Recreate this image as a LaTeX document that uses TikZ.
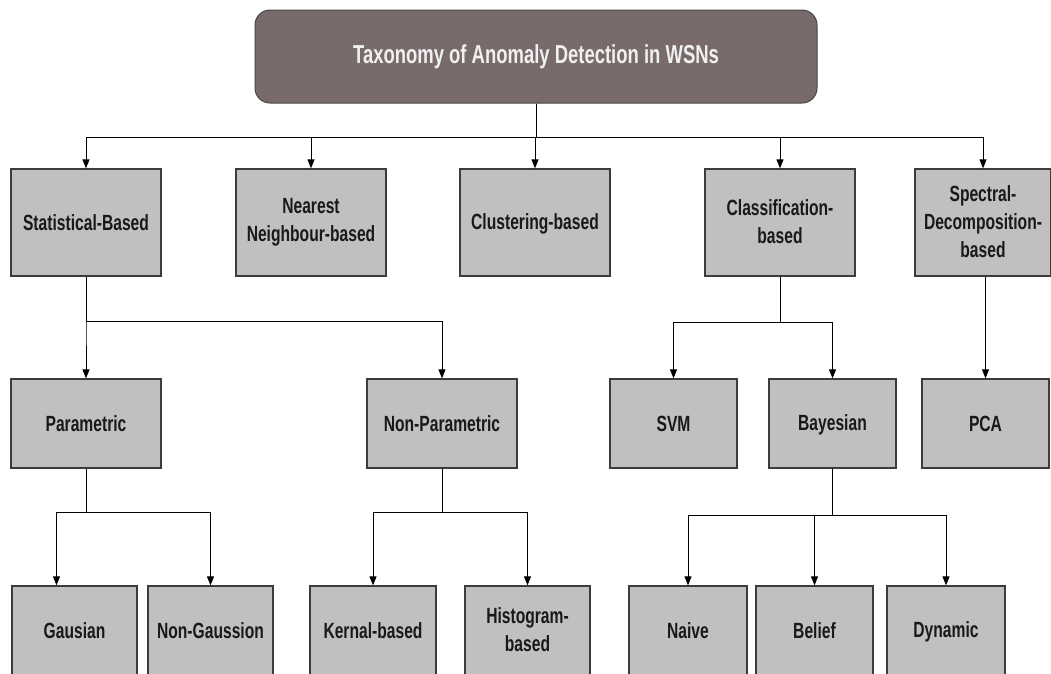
\documentclass[tikz,border=0pt]{standalone}
\usepackage{fontspec}
\setmainfont{Liberation Sans}[FakeStretch=0.71]
\usetikzlibrary{arrows.meta}

\definecolor{boxgray}{HTML}{C0C0C0}
\definecolor{rootbrown}{HTML}{796B6B}
\definecolor{edgegray}{HTML}{3C3C3C}

\newcommand\boxstrut{\rule[-2.1pt]{0pt}{20pt}}

\begin{document}
\begin{tikzpicture}[x=1pt,y=-1pt,
    box/.style={draw=edgegray, line width=1.3pt, fill=boxgray, align=center,
        inner sep=0pt, text=black!90, font=\fontsize{22}{28}\selectfont\bfseries,
        execute at begin node=\boxstrut, execute at end node=\boxstrut},
    topbox/.style={box, minimum width=150pt, minimum height=107pt},
    midbox/.style={box, minimum width=#1, minimum height=89pt},
    lowbox/.style={box, minimum width=#1, minimum height=90pt},
    rootbox/.style={draw=edgegray!80!rootbrown, line width=1pt, fill=rootbrown,
        rounded corners=15pt, minimum width=562pt, minimum height=93pt,
        text=white!94!black, font=\fontsize{26}{30}\selectfont\bfseries},
    arr/.style={-{Triangle[length=9pt,width=7pt]}, line width=0.9pt}]

    \useasboundingbox (0,0) rectangle (1051,673);

    % root
    \node[rootbox] (root) at (536,56.5) {Taxonomy of Anomaly Detection in WSNs};

    % first level
    \node[topbox] (stat) at (86,222.5) {Statistical-Based};
    \node[topbox] (near) at (311,222.5) {Nearest\\Neighbour-based};
    \node[topbox] (clus) at (535,222.5) {Clustering-based};
    \node[topbox] (clas) at (780,222.5) {Classification-\\based};
    \node[topbox, minimum width=136pt] (spec) at (983,222.5) {Spectral-\\Decomposition-\\based};

    % second level
    \node[midbox=150pt] (param) at (86,423.5) {Parametric};
    \node[midbox=150pt] (nonpar) at (442,423.5) {Non-Parametric};
    \node[midbox=127pt] (svm) at (673.5,423.5) {SVM};
    \node[midbox=127pt] (bayes) at (832.5,423.5) {Bayesian};
    \node[midbox=127pt] (pca) at (985.5,423.5) {PCA};

    % third level
    \node[lowbox=125pt] (gaus) at (74.5,631) {Gausian};
    \node[lowbox=125pt] (ngaus) at (210.5,631) {Non-Gaussion};
    \node[lowbox=126pt] (kern) at (373,631) {Kernal-based};
    \node[lowbox=125pt] (hist) at (527.5,631) {Histogram-\\based};
    \node[lowbox=118pt] (naive) at (688,631) {Naive};
    \node[lowbox=117pt] (belief) at (814.5,631) {Belief};
    \node[lowbox=118pt] (dyn) at (946,631) {Dynamic};

    % connectors
    \foreach \n in {stat,near,clus,clas,spec}
        \draw[arr] (root.south) -- ++(0,34) -| (\n);

    \foreach \n in {param,nonpar}
        \draw[arr] (stat.south) -- ++(0,45) -| (\n);
    \foreach \n in {svm,bayes}
        \draw[arr] (clas.south) -- ++(0,46) -| (\n);
    \draw[arr] (spec.south -| pca) -- (pca);

    \draw[arr] (param.south) -- ++(0,44) -| ([xshift=-18pt]gaus.north);
    \draw[arr] (param.south) -- ++(0,44) -| (ngaus);
    \foreach \n in {kern,hist}
        \draw[arr] (nonpar.south) -- ++(0,44) -| (\n);
    \foreach \n in {naive,belief,dyn}
        \draw[arr] (bayes.south) -- ++(0,47) -| (\n);
\end{tikzpicture}
\end{document}
